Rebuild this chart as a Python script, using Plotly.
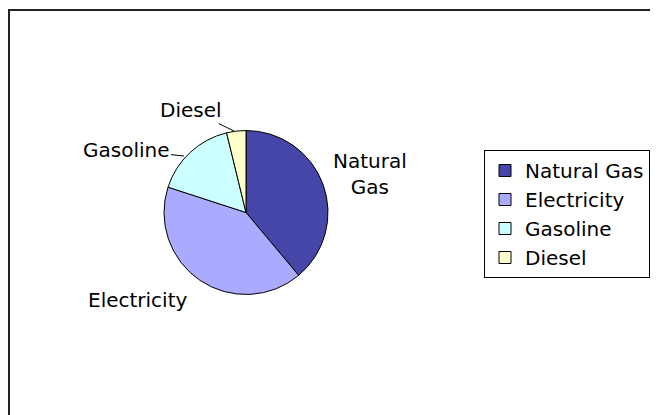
import plotly.graph_objects as go

categories = ["Natural Gas", "Electricity", "Gasoline", "Diesel"]
values = [38.9, 41.1, 16.2, 3.8]
colors = ["#4646A8", "#AAAAFF", "#CCFFFF", "#FFFFCC"]

W, H = 658, 415
OFF = 8  # page body margin
FONT = "DejaVu Sans, Verdana, sans-serif"
FS = 20


def px(x):
    return (x - OFF) / W


def py(y):
    return 1 - (y - OFF) / H


fig = go.Figure()
fig.add_trace(go.Pie(
    labels=categories,
    values=values,
    sort=False,
    direction="clockwise",
    rotation=0,
    textinfo="none",
    hoverinfo="label+percent",
    marker=dict(colors=colors, line=dict(color="#000000", width=1)),
    domain=dict(x=[px(164), px(328)], y=[py(294.5), py(130.5)]),
))

ann_font = dict(family=FONT, size=FS, color="#000000")
annotations = [
    dict(text="Natural<br>Gas", x=px(370), y=py(174), xref="paper", yref="paper",
         showarrow=False, xanchor="center", yanchor="middle", font=ann_font),
    dict(text="Electricity", x=px(138), y=py(300), xref="paper", yref="paper",
         showarrow=False, xanchor="center", yanchor="middle", font=ann_font),
    dict(text="Gasoline", x=px(184), y=py(156), xref="paper", yref="paper",
         showarrow=True, arrowhead=0, arrowwidth=1, arrowcolor="#000000",
         ax=-58, ay=-6, font=ann_font),
    dict(text="Diesel", x=px(234), y=py(131), xref="paper", yref="paper",
         showarrow=True, arrowhead=0, arrowwidth=1, arrowcolor="#000000",
         ax=-43, ay=-21, font=ann_font),
]

fig.update_layout(
    width=W, height=H,
    margin=dict(l=0, r=0, t=0, b=0),
    paper_bgcolor="#FFFFFF",
    plot_bgcolor="#FFFFFF",
    font=dict(family=FONT, size=FS, color="#000000"),
    showlegend=True,
    legend=dict(
        x=px(484), y=py(150), xanchor="left", yanchor="top",
        bordercolor="#000000", borderwidth=1, bgcolor="#FFFFFF",
        font=dict(family=FONT, size=FS, color="#000000"),
        itemclick=False, itemdoubleclick=False,
    ),
    annotations=annotations,
    shapes=[dict(type="rect", xref="paper", yref="paper",
                 x0=px(9), x1=1.05, y0=-0.05, y1=py(10),
                 line=dict(color="#222222", width=2), fillcolor="rgba(0,0,0,0)",
                 layer="above")],
)

fig.write_html("out.html")
